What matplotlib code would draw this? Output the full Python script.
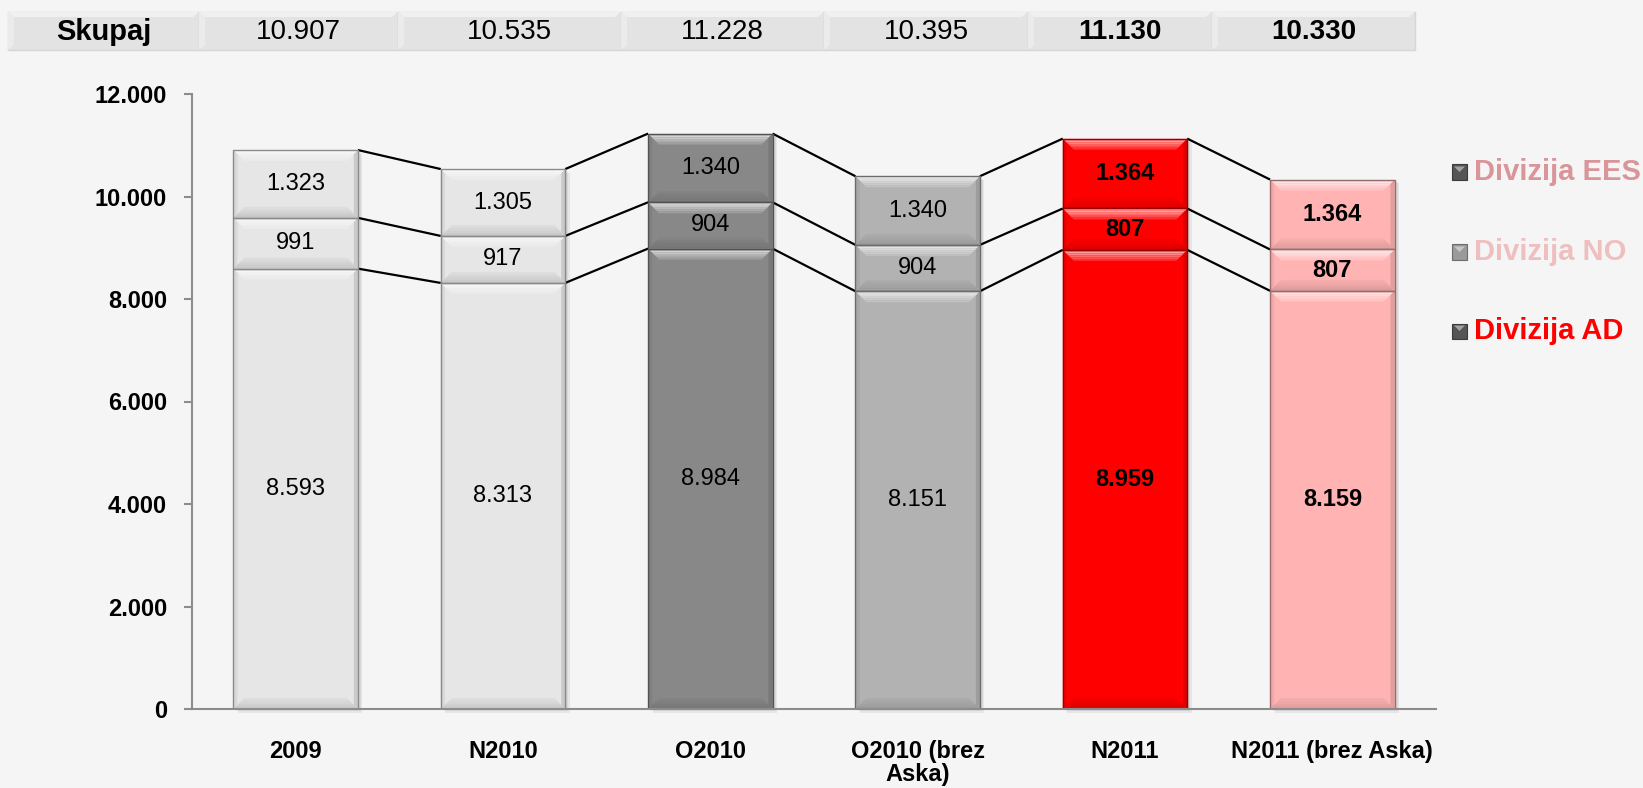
import matplotlib
matplotlib.use('Agg')
import matplotlib.pyplot as plt
from matplotlib.patches import Rectangle, Polygon
import matplotlib.colors as mcolors
import numpy as np

plt.rcParams['font.family'] = ['Liberation Sans', 'DejaVu Sans']

# ---------------- data ----------------
categories = ['2009', 'N2010', 'O2010', 'O2010 (brez\nAska)', 'N2011', 'N2011 (brez Aska)']
div_ad = [8593, 8313, 8984, 8151, 8959, 8159]
div_no = [991, 917, 904, 904, 807, 807]
div_ees = [1323, 1305, 1340, 1340, 1364, 1364]
totals = [10907, 10535, 11228, 10395, 11130, 10330]
header_label = 'Skupaj'
series_names = ['Divizija EES', 'Divizija NO', 'Divizija AD']
yticks = [0, 2000, 4000, 6000, 8000, 10000, 12000]

# ---------------- style ----------------
bar_colors = ['#E6E6E6', '#E6E6E6', '#888888', '#B2B2B2', '#FF0000', '#FFB3B3']
bold_flags = [False, False, False, False, True, True]
legend_text_colors = ['#D9959A', '#EFBFC0', '#FF0000']
legend_marker_colors = ['#555555', '#9A9A9A', '#555555']
BG = '#F5F5F5'


def fmt(v):
    return f'{v:,}'.replace(',', '.')


def mix(c, other, t):
    a = np.array(mcolors.to_rgb(c))
    b = np.array(mcolors.to_rgb(other))
    return tuple(a * (1 - t) + b * t)


W, H, DPI = 1643, 788, 100
fig = plt.figure(figsize=(W / DPI, H / DPI), dpi=DPI, facecolor=BG)
ax_l, ax_r, ax_b, ax_t = 192, 1436, 709, 94
ax = fig.add_axes([ax_l / W, 1 - ax_b / H, (ax_r - ax_l) / W, (ax_b - ax_t) / H])
ax.set_facecolor(BG)
ax.set_xlim(-0.5, len(categories) - 0.5)
ax.set_ylim(0, 12000)

# pixel -> data conversions
dx = (len(categories)) / (ax_r - ax_l)
dy = 12000 / (ax_b - ax_t)

bw = 0.6
x = np.arange(len(categories))
ad = np.array(div_ad)
no = np.array(div_no)
ees = np.array(div_ees)
stack_bottoms = [np.zeros(len(x)), ad, ad + no]
stack_heights = [ad, no, ees]

# shadows
for i in range(len(x)):
    for k, a in enumerate([0.06, 0.06, 0.06]):
        ax.add_patch(Rectangle((x[i] - bw / 2 + (k + 1) * 1.5 * dx, -(k + 1) * 1.2 * dy), bw, totals[i],
                               facecolor='black', alpha=a, edgecolor='none',
                               zorder=1.2, clip_on=False))


def band(x0, x1, yo, yi, bx0, bx1, col, z):
    # trapezoid slice between outer edge yo and inner edge yi, insets bx0 (outer) bx1 (inner)
    ax.add_patch(Polygon([(x0 + bx0, yo), (x1 - bx0, yo), (x1 - bx1, yi), (x0 + bx1, yi)],
                         closed=True, facecolor=col, edgecolor='none', zorder=z))


def bevel_segment(xc, b, h, c):
    x0, x1 = xc - bw / 2, xc + bw / 2
    t = b + h
    bh = min(11 * dy, h * 0.3)
    bx = 11 * dx
    sx = 4 * dx
    ax.add_patch(Rectangle((x0, b), bw, h, facecolor=c, edgecolor='none', zorder=2))
    # side strips
    ax.add_patch(Polygon([(x0, b), (x0 + sx, b + bh * sx / bx), (x0 + sx, t - bh * sx / bx), (x0, t)],
                         closed=True, facecolor=mix(c, 'black', 0.06), edgecolor='none', zorder=2.1))
    ax.add_patch(Polygon([(x1, b), (x1 - sx, b + bh * sx / bx), (x1 - sx, t - bh * sx / bx), (x1, t)],
                         closed=True, facecolor=mix(c, 'black', 0.12), edgecolor='none', zorder=2.1))
    # top bevel gradient (highlight)
    n = 6
    for k in range(n):
        f0, f1 = k / n, (k + 1) / n
        band(x0, x1, t - bh * f0, t - bh * f1, bx * f0, bx * f1,
             mix(c, 'white', 0.65 * (1 - k / n) + 0.08), 2.2)
    # bottom bevel gradient (shade)
    for k in range(n):
        f0, f1 = k / n, (k + 1) / n
        band(x0, x1, b + bh * f0, b + bh * f1, bx * f0, bx * f1,
             mix(c, 'black', 0.12 * (1 - k / n) + 0.02), 2.2)
    ax.add_patch(Rectangle((x0, b), bw, h, facecolor='none',
                           edgecolor=mix(c, 'black', 0.4), lw=1.0, zorder=2.3))


for b_arr, h_arr in zip(stack_bottoms, stack_heights):
    for i in range(len(x)):
        bevel_segment(x[i], b_arr[i], h_arr[i], bar_colors[i])
        ax.text(x[i], b_arr[i] + h_arr[i] / 2, fmt(int(h_arr[i])),
                ha='center', va='center', fontsize=17,
                fontweight='bold' if bold_flags[i] else 'normal', color='black', zorder=4)

# connector lines
levels = [ad, ad + no, ad + no + ees]
for lv in levels:
    for i in range(len(x) - 1):
        ax.plot([x[i] + bw / 2, x[i + 1] - bw / 2], [lv[i], lv[i + 1]],
                color='black', lw=1.6, zorder=1.5, solid_capstyle='butt')

# axes styling
for s in ['top', 'right']:
    ax.spines[s].set_visible(False)
for s in ['left', 'bottom']:
    ax.spines[s].set_color('#8C8C8C')
    ax.spines[s].set_linewidth(1.5)
ax.spines['left'].set_zorder(5)
ax.set_yticks(yticks)
ax.set_yticklabels([fmt(v) for v in yticks], fontsize=17, fontweight='bold')
ax.tick_params(axis='y', direction='out', length=6, width=1.5, color='#8C8C8C', pad=12)
ax.set_xticks(x)
ax.set_xticklabels(categories, fontsize=17, fontweight='bold', linespacing=1.0)
ax.tick_params(axis='x', length=0, pad=22)

# ---------------- header row ----------------
cell_edges = [8, 199, 398, 621, 824, 1028, 1212, 1415]
cell_top, cell_bot = 12, 50
header_texts = [header_label] + [fmt(v) for v in totals]
header_bold = [True] + bold_flags
for j in range(len(cell_edges) - 1):
    l, r = cell_edges[j], cell_edges[j + 1]
    fig.patches.append(Rectangle((l / W, 1 - cell_bot / H), (r - l) / W, (cell_bot - cell_top) / H,
                                 transform=fig.transFigure, facecolor='#E3E3E3',
                                 edgecolor='#D6D6D6', lw=1.0, zorder=1))
    # highlight bevel on top and left
    fig.patches.append(Polygon([(l / W, 1 - cell_top / H), (r / W, 1 - cell_top / H),
                                ((r - 6) / W, 1 - (cell_top + 5) / H), ((l + 6) / W, 1 - (cell_top + 5) / H)],
                               closed=True, transform=fig.transFigure, facecolor='#F0F0F0',
                               edgecolor='none', zorder=1.1))
    fig.patches.append(Polygon([(l / W, 1 - cell_top / H), ((l + 6) / W, 1 - (cell_top + 5) / H),
                                ((l + 6) / W, 1 - (cell_bot - 5) / H), (l / W, 1 - cell_bot / H)],
                               closed=True, transform=fig.transFigure, facecolor='#EBEBEB',
                               edgecolor='none', zorder=1.1))
    fig.text((l + r) / 2 / W, 1 - 32 / H, header_texts[j], ha='center', va='center',
             fontsize=20 if j else 21, fontweight='bold' if header_bold[j] else 'normal',
             color='black', zorder=3)

# ---------------- legend ----------------
leg_y = [172, 252, 331]
for name, tc, mc, yy in zip(series_names, legend_text_colors, legend_marker_colors, leg_y):
    s = 15
    mx0 = 1452
    fig.patches.append(Rectangle((mx0 / W, 1 - (yy + s / 2) / H), s / W, s / H,
                                 transform=fig.transFigure, facecolor=mc,
                                 edgecolor=mix(mc, 'black', 0.3), lw=0.8, zorder=2))
    fig.patches.append(Polygon([((mx0 + 2) / W, 1 - (yy - s / 2 + 2) / H),
                                ((mx0 + s - 2) / W, 1 - (yy - s / 2 + 2) / H),
                                ((mx0 + s / 2) / W, 1 - (yy) / H)],
                               closed=True, transform=fig.transFigure,
                               facecolor=mix(mc, 'white', 0.45), edgecolor='none', zorder=2.1))
    fig.text(1474 / W, 1 - yy / H, name, ha='left', va='center', fontsize=21,
             fontweight='bold', color=tc)

fig.savefig('out.png', dpi=DPI, facecolor=BG)
